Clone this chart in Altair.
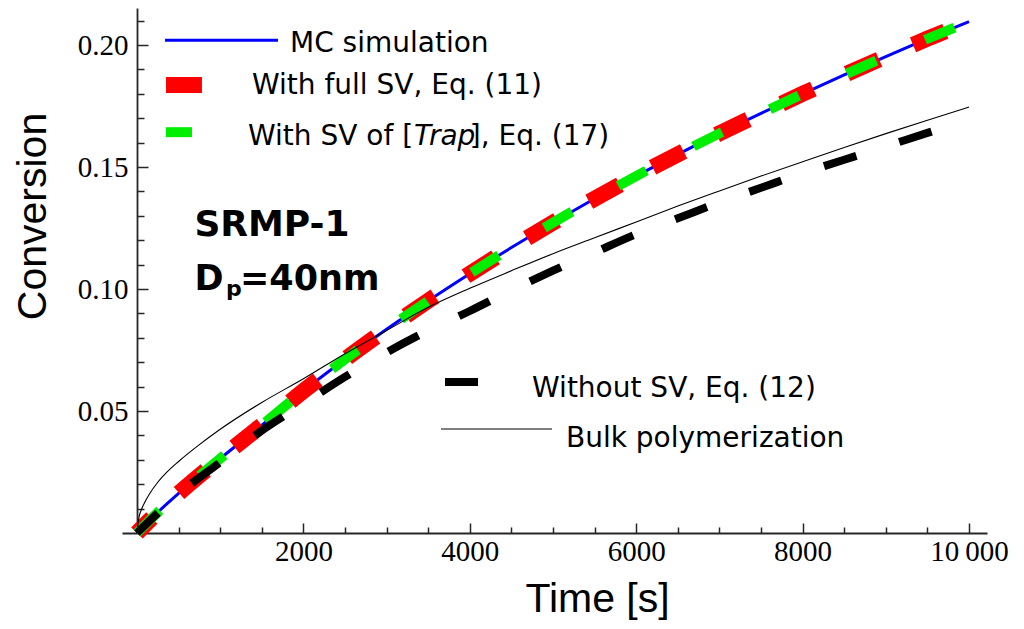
import altair as alt
import pandas as pd

# time grid [s] and conversion
TIME = [0, 250, 500, 1000, 1500, 2000, 2500, 3000, 3500, 4000, 4500,
        5000, 5500, 6000, 6500, 7000, 7500, 8000, 8500, 9000, 9500, 10000]
MC_SIM = [0, 0.0085, 0.0162, 0.0305, 0.0442, 0.0582, 0.0712, 0.0835, 0.0952, 0.1063, 0.117,
          0.1272, 0.137, 0.1463, 0.1552, 0.1638, 0.172, 0.18, 0.1878, 0.1953, 0.2026, 0.2096]
FULL_SV = [0, 0.0085, 0.0162, 0.0305, 0.0442, 0.0582, 0.0712, 0.0835, 0.0952, 0.1063, 0.117,
           0.1272, 0.137, 0.1463, 0.1552, 0.1638, 0.172, 0.18, 0.1878, 0.1953, 0.2026, 0.2096]
TRAP_SV = [0, 0.0085, 0.0162, 0.0305, 0.0442, 0.0582, 0.0712, 0.0835, 0.0952, 0.1063, 0.117,
           0.1272, 0.137, 0.1463, 0.1552, 0.1638, 0.172, 0.18, 0.1878, 0.1953, 0.2026, 0.2096]
NO_SV = [0, 0.0082, 0.016, 0.029, 0.042, 0.053, 0.064, 0.074, 0.083, 0.091, 0.0995,
         0.1075, 0.115, 0.1225, 0.129, 0.1355, 0.1415, 0.1475, 0.153, 0.1585, 0.164, 0.1695]
TIME_BULK = [0, 25, 50, 100, 150, 250, 350, 500, 750, 1000, 1500, 2000, 2500, 3000, 3500,
             4000, 4500, 5000, 5500, 6000, 6500, 7000, 7500, 8000, 8500, 9000, 9500, 10000]
BULK = [0, 0.0066, 0.0093, 0.013, 0.016, 0.0208, 0.0246, 0.0293, 0.0362, 0.0425, 0.0535,
        0.0632, 0.0735, 0.083, 0.0925, 0.1003, 0.1075, 0.1145, 0.121, 0.1275, 0.134,
        0.1402, 0.1463, 0.1522, 0.158, 0.1637, 0.1692, 0.1746]

# legend, in data units
LEG_KEYS = ["mc", "full", "trap", "nosv", "bulk"]
LEG_T1 = [337, 349, 349, 3702, 3654]
LEG_T2 = [1695, 781, 661, 4099, 4988]
LEG_V = [0.2020, 0.1836, 0.1643, 0.0619, 0.0426]
LEG_TEXT = ["MC simulation", "With full SV, Eq. (11)", "With SV of [",
            "Without SV, Eq. (12)", "Bulk polymerization"]
LEG_TEXT_T = [1839, 1382, 1334, 4748, 5156]
LEG_TEXT_V = [0.1971, 0.1799, 0.1590, 0.0557, 0.0352]
TRAP_PARTS = ["Trap", "], Eq. (17)"]
TRAP_PARTS_T = [3329, 4000]

# annotation
NOTE_TEXT = ["SRMP-1", "D", "=40nm"]
NOTE_T = [690, 690, 1238]
NOTE_V = [0.1217, 0.0996, 0.0996]
NOTE_SIZE = [36, 35, 35]
SUB_TEXT = ["p"]
SUB_T = [1070]
SUB_V = [0.0973]

X_DOMAIN = [-180, 10216]
Y_DOMAIN = [0, 0.2152]
AX = "#262626"

curves = pd.concat([
    pd.DataFrame({"t": TIME, "v": MC_SIM, "series": "mc"}),
    pd.DataFrame({"t": TIME, "v": FULL_SV, "series": "full"}),
    pd.DataFrame({"t": TIME, "v": TRAP_SV, "series": "trap"}),
    pd.DataFrame({"t": TIME, "v": NO_SV, "series": "nosv"}),
    pd.DataFrame({"t": TIME_BULK, "v": BULK, "series": "bulk"}),
])
swatches = pd.DataFrame({"key": LEG_KEYS, "t": LEG_T1, "t2": LEG_T2, "v": LEG_V})
labels = pd.DataFrame({"label": LEG_TEXT, "t": LEG_TEXT_T, "v": LEG_TEXT_V})
trap_parts = pd.DataFrame({"label": TRAP_PARTS, "t": TRAP_PARTS_T, "v": [LEG_TEXT_V[2]] * 2})
notes = pd.DataFrame({"label": NOTE_TEXT, "t": NOTE_T, "v": NOTE_V, "size": NOTE_SIZE})
subs = pd.DataFrame({"label": SUB_TEXT, "t": SUB_T, "v": SUB_V})

x_scale = alt.Scale(domain=X_DOMAIN, nice=False, zero=False)
y_scale = alt.Scale(domain=Y_DOMAIN, nice=False, zero=False)

X = alt.X(
    "t:Q",
    scale=x_scale,
    axis=alt.Axis(
        values=[2000, 4000, 6000, 8000, 10000],
        labelExpr="datum.value == 10000 ? '10\u2009000' : format(datum.value, 'd')",
        ticks=False, grid=False, domainColor=AX, domainWidth=1.8,
        labelFont="Liberation Serif", labelFontSize=29, labelColor="black",
        labelPadding=4, labelFlush=False, labelOverlap=False,
        title="Time [s]", titleFont="Liberation Sans", titleFontSize=41,
        titleFontWeight="normal", titleColor="black", titleX=475, titleY=78,
        titleAlign="center", titleBaseline="alphabetic",
    ),
)
Y = alt.Y(
    "v:Q",
    scale=y_scale,
    axis=alt.Axis(
        values=[0.05, 0.1, 0.15, 0.2], format=".2f", offset=-15,
        ticks=False, grid=False, domainColor=AX, domainWidth=1.8,
        labelFont="Liberation Serif", labelFontSize=29, labelColor="black",
        labelPadding=9, labelFlush=False, labelOverlap=False,
        title="Conversion", titleFont="Liberation Sans", titleFontSize=41,
        titleFontWeight="normal", titleColor="black", titleAngle=270,
        titleX=-92, titleY=208, titleAlign="center", titleBaseline="alphabetic",
    ),
)


def curve(key, **style):
    return (
        alt.Chart(curves)
        .transform_filter(alt.datum.series == key)
        .mark_line(interpolate="monotone", strokeCap="butt", **style)
        .encode(x=X, y=Y)
    )


def swatch(key, **style):
    return (
        alt.Chart(swatches)
        .transform_filter(alt.datum.key == key)
        .mark_rule(strokeCap="butt", **style)
        .encode(x=X, x2="t2:Q", y=Y)
    )


text_style = dict(align="left", baseline="alphabetic", color="black", font="DejaVu Sans")

inner = alt.layer(
    curve("mc", color="#0000ff", strokeWidth=3),
    curve("full", color="#ff0000", strokeWidth=16, strokeDash=[35, 37], strokeDashOffset=14),
    curve("trap", color="#00ee00", strokeWidth=10, strokeDash=[32, 53]),
    curve("nosv", color="black", strokeWidth=8, strokeDash=[34, 45], strokeDashOffset=5),
    curve("bulk", color="black", strokeWidth=1.1),
    swatch("mc", color="#0000ff", strokeWidth=3),
    swatch("full", color="#ff0000", strokeWidth=16),
    swatch("trap", color="#00ee00", strokeWidth=10),
    swatch("nosv", color="black", strokeWidth=8),
    swatch("bulk", color="black", strokeWidth=1.1),
    alt.Chart(labels).mark_text(fontSize=28, **text_style).encode(x=X, y=Y, text="label:N"),
    alt.Chart(trap_parts).transform_filter(alt.datum.label == "Trap")
    .mark_text(fontSize=28, fontStyle="italic", **text_style).encode(x=X, y=Y, text="label:N"),
    alt.Chart(trap_parts).transform_filter(alt.datum.label != "Trap")
    .mark_text(fontSize=28, **text_style).encode(x=X, y=Y, text="label:N"),
    alt.Chart(notes).mark_text(fontWeight="bold", **text_style)
    .encode(x=X, y=Y, text="label:N", size=alt.Size("size:Q", scale=None)),
    alt.Chart(subs).mark_text(fontSize=22, fontWeight="bold", **text_style)
    .encode(x=X, y=Y, text="label:N"),
)

# inward ticks: a second pair of axes moved onto the first ones
ticks = (
    alt.Chart(pd.DataFrame({"t": [0], "v": [0]}))
    .mark_point(opacity=0)
    .encode(
        x=alt.X(
            "t:Q", scale=x_scale,
            axis=alt.Axis(
                orient="top", offset=-525, values=list(range(500, 10001, 500)),
                labels=False, domain=False, grid=False, title="",
                tickColor=AX, tickWidth=1.5,
                tickSize={"condition": {"test": "datum.value % 2000 === 0", "value": 10}, "value": 6},
            ),
        ),
        y=alt.Y(
            "v:Q", scale=y_scale,
            axis=alt.Axis(
                orient="right", offset=-850, values=[round(0.01 * i, 2) for i in range(1, 22)],
                labels=False, domain=False, grid=False, title="",
                tickColor=AX, tickWidth=1.5,
                tickSize={"condition": {"test": "round(datum.value * 100) % 5 === 0", "value": 11}, "value": 7},
            ),
        ),
    )
)

chart = (
    alt.layer(inner, ticks)
    .resolve_axis(x="independent", y="independent")
    .properties(
        width=865, height=525,
        autosize=alt.AutoSizeParams(type="none"),
        padding={"left": 114, "top": 0, "right": 29, "bottom": 88},
        background="white",
    )
    .configure_view(stroke="transparent")
)

chart.save("out.html", embed_options={"renderer": "svg", "actions": False})
